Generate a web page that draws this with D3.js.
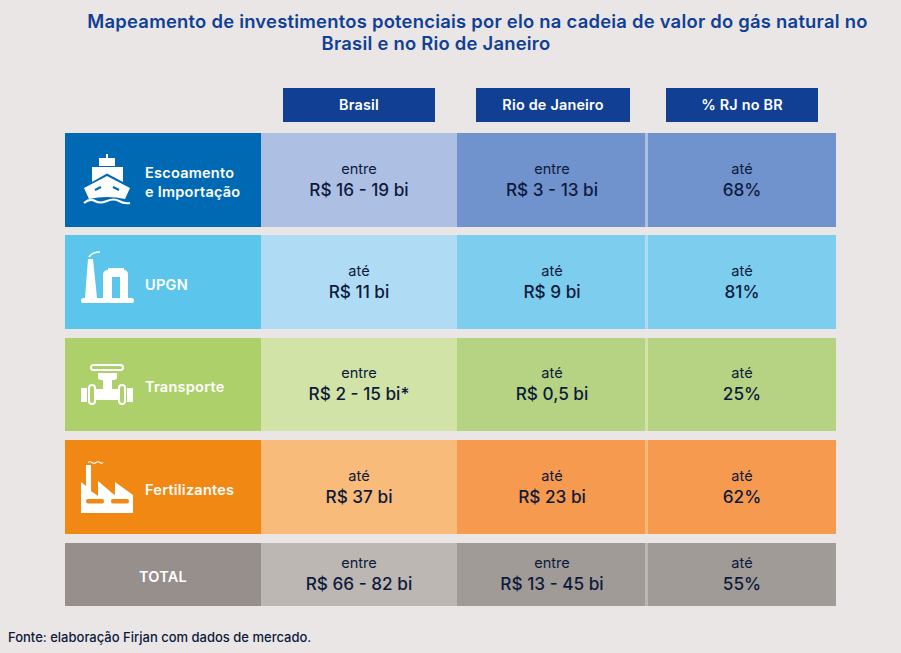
<!DOCTYPE html>
<html><head><meta charset="utf-8">
<script src="https://cdn.jsdelivr.net/npm/d3@7/dist/d3.min.js"></script>
<style>html,body{margin:0;padding:0;background:#e9e6e5}svg{display:block}text{font-family:Inter,sans-serif}</style>
</head><body><svg id="c" width="901" height="653"></svg>
<script>
const titleLines = ["Mapeamento de investimentos potenciais por elo na cadeia de valor do gás natural no","Brasil e no Rio de Janeiro"];
const columns = ["Brasil","Rio de Janeiro","% RJ no BR"];
const rows = ["Escoamento\ne Importação","UPGN","Transporte","Fertilizantes","TOTAL"];
const prefixes = [["entre","entre","até"],["até","até","até"],["entre","até","até"],["até","até","até"],["entre","entre","até"]];
const values = [["R$ 16 - 19 bi","R$ 3 - 13 bi","68%"],["R$ 11 bi","R$ 9 bi","81%"],["R$ 2 - 15 bi*","R$ 0,5 bi","25%"],["R$ 37 bi","R$ 23 bi","62%"],["R$ 66 - 82 bi","R$ 13 - 45 bi","55%"]];
const source = "Fonte: elaboração Firjan com dados de mercado.";
const rowFill = ["#0069b4","#5bc5ec","#add06a","#f28814","#978f8b"];
const brFill = ["#adc0e3","#afdcf4","#d1e3a6","#f8bb79","#bcb7b3"];
const rjFill = ["#7193cd","#7ccdee","#b6d383","#f69a50","#a19b97"];
const icons = ["ship","upgn","valve","factory",null];

const svg = d3.select("#c");
const NAVY="#103f93", INK="#0e1a3c";
const rowY = d3.scaleOrdinal().domain(rows).range([133,235,338,440,543]);
const rowH = d3.scaleOrdinal().domain(rows).range([94,94,93,94,63]);
const colX = d3.scaleOrdinal().domain(columns).range([261,457,648]);
const colW = d3.scaleOrdinal().domain(columns).range([196,188,188]);
const headX = d3.scaleOrdinal().domain(columns).range([283,476,666]);
const headW = d3.scaleOrdinal().domain(columns).range([152,154,152]);

svg.selectAll("text.t").data(titleLines).join("text").attr("class","t")
  .attr("x",(d,i)=>i?436:477.5).attr("y",(d,i)=>28+i*22).attr("text-anchor","middle")
  .attr("font-size",18.4).attr("letter-spacing",0.24).attr("font-weight",600).attr("fill",NAVY).text(d=>d);

const h = svg.selectAll("g.h").data(columns).join("g").attr("class","h");
h.append("rect").attr("x",d=>headX(d)).attr("y",88).attr("width",d=>headW(d)).attr("height",34).attr("fill",NAVY);
h.append("text").attr("x",d=>headX(d)+headW(d)/2).attr("y",110).attr("text-anchor","middle")
  .attr("font-size",14.4).attr("letter-spacing",0.2).attr("font-weight",600).attr("fill","#fff").text(d=>d);

const iconDraw = {
 ship(g,bg){
  g.attr("transform","translate(107,154)");
  g.append("path").attr("fill","#fff").attr("d","M-1,0H1V4H8V12H-8V4H-1Z M-15,13H16V28L0,19.5L-15,28Z M-23,34L0,22L23,34L18,45Q0,41 -18,45Z");
  g.append("path").attr("fill","none").attr("stroke",bg).attr("stroke-width",2).attr("d","M-12,36L-6,33M12,36L6,33");
  g.append("path").attr("fill","none").attr("stroke","#fff").attr("stroke-width",2.2).attr("d","M-23,49Q-17,44 -12,47T0,47T12,47T23,49");
 },
 upgn(g){
  g.attr("transform","translate(82,251)");
  g.append("path").attr("fill","#fff").attr("d","M1,47H50Q52,47 52,49.5T50,52H1Q-1,52 -1,49.5T1,47Z M6,8H11L15,47H3Z");
  g.append("path").attr("fill","#fff").attr("d","M21,47V24Q21,19 26,19V17H42V19Q46,19 46,24V47H38V26H30V47Z");
  g.append("path").attr("fill","none").attr("stroke","#fff").attr("stroke-width",1.6).attr("d","M7,6Q10,1 18,1");
 },
 valve(g){
  g.attr("transform","translate(81,363)");
  g.append("rect").attr("x",10).attr("y",2).attr("width",32).attr("height",5).attr("rx",2.5).attr("fill","none").attr("stroke","#fff").attr("stroke-width",2);
  g.append("path").attr("fill","#fff").attr("d","M17,10H36V15Q36,17 31,17V26H37V37H15V26H22V17Q17,17 17,15Z M0,25H6V39H0Z M46,25H52V39H46Z");
  g.append("rect").attr("x",8).attr("y",22).attr("width",6).attr("height",19).attr("rx",3).attr("fill","none").attr("stroke","#fff").attr("stroke-width",2);
  g.append("rect").attr("x",38).attr("y",22).attr("width",6).attr("height",19).attr("rx",3).attr("fill","none").attr("stroke","#fff").attr("stroke-width",2);
 },
 factory(g,bg){
  g.attr("transform","translate(81,461)");
  g.append("path").attr("fill","#fff").attr("d","M0,21L5,25V4H10V30L17,35V20L31,32L34,34V21L52,34V52H0Z");
  g.append("rect").attr("x",5).attr("y",38).attr("width",18).attr("height",4.5).attr("rx",2).attr("fill",bg);
  g.append("rect").attr("x",30).attr("y",38).attr("width",18).attr("height",4.5).attr("rx",2).attr("fill",bg);
  g.append("path").attr("fill","none").attr("stroke","#fff").attr("stroke-width",1.2).attr("d","M7,1.5Q9,0 11,1.5T15,1.5T19,1.5T22,1.5");
 }
};

rows.forEach((r,i)=>{
  const y=rowY(r), H=rowH(r), g=svg.append("g");
  g.append("rect").attr("x",65).attr("y",y).attr("width",196).attr("height",H).attr("fill",rowFill[i]);
  g.append("rect").attr("x",645).attr("y",y).attr("width",3).attr("height",H).attr("fill",brFill[i]);
  columns.forEach((c,j)=>{
    g.append("rect").attr("x",colX(c)).attr("y",y).attr("width",colW(c)).attr("height",H).attr("fill",j==0?brFill[i]:rjFill[i]);
    const cx=colX(c)+colW(c)/2+(j==1?1:0);
    g.append("text").attr("x",cx).attr("y",y+H/2-6.5).attr("text-anchor","middle").attr("font-size",14.6).attr("fill",INK).text(prefixes[i][j]);
    g.append("text").attr("x",cx).attr("y",y+H/2+15.5).attr("text-anchor","middle").attr("font-size",17.2).attr("font-weight",500).attr("fill",INK).text(values[i][j]);
  });
  const lines=r.split("\n");
  if(icons[i]) iconDraw[icons[i]](g.append("g"),rowFill[i]);
  g.selectAll("text.l").data(lines).join("text").attr("class","l")
    .attr("x",icons[i]?145:163).attr("text-anchor",icons[i]?"start":"middle")
    .attr("y",(d,k)=>y+H/2+7.5-(lines.length-1)*9.5+k*19)
    .attr("font-size",14.5).attr("letter-spacing",0.25).attr("font-weight",600).attr("fill","#fff").text(d=>d);
});
svg.append("text").attr("x",8).attr("y",642).attr("font-size",13).attr("font-weight",500).attr("fill",INK).text(source);
</script></body></html>
